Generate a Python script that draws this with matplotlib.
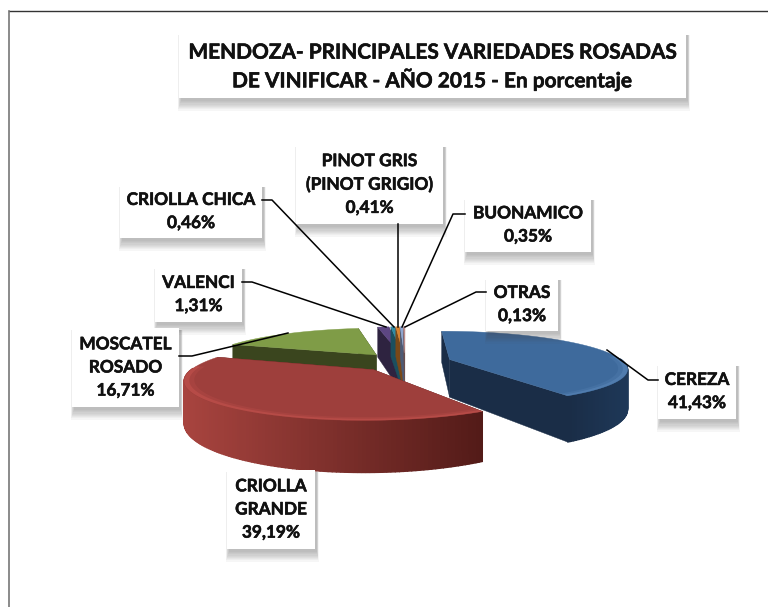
import numpy as np
import matplotlib
matplotlib.use("Agg")
import matplotlib.pyplot as plt
import matplotlib.patheffects as pe
from matplotlib.patches import Polygon, Rectangle
from matplotlib.colors import to_rgb

# datos
variedades = ["CEREZA", "CRIOLLA\nGRANDE", "MOSCATEL\nROSADO", "VALENCI",
              "CRIOLLA CHICA", "PINOT GRIS\n(PINOT GRIGIO)", "BUONAMICO", "OTRAS"]
valores = [41.43, 39.19, 16.71, 1.31, 0.46, 0.41, 0.35, 0.13]
titulo = "MENDOZA- PRINCIPALES VARIEDADES ROSADAS\nDE VINIFICAR - AÑO 2015 - En porcentaje"

# colores: cara superior, corte, lado
c_top = ["#3e6a9c", "#9e3f3c", "#7f9c47", "#5d4683", "#2f8ba6", "#d9822e", "#8fa6d0", "#c48f8d"]
c_cut = ["#1a2d47", "#5a1f1d", "#3a451e", "#2e2340", "#1b4f5f", "#7a4818", "#4d5a75", "#6a4d4c"]
c_side_a = ["#1a2d47", "#a8443f", "#3a451e", "#2e2340", "#1b4f5f", "#7a4818", "#4d5a75", "#6a4d4c"]
c_side_b = ["#1e3858", "#531b18", "#3a451e", "#2e2340", "#1b4f5f", "#7a4818", "#4d5a75", "#6a4d4c"]

# cajas de etiquetas en pixeles: x0, y0, x1, y1
cajas = [(658, 364, 736, 419), (227, 470, 315, 549), (72, 328, 179, 407), (155, 267, 242, 322),
         (120, 185, 262, 238), (296, 145, 443, 224), (465, 198, 591, 252), (486, 278, 558, 331)]
guias = [[(658, 380), (648, 380), (607, 350)], None,
         [(179, 356), (192, 356), (288, 333)],
         [(242, 282), (252, 282), (386, 327)],
         [(262, 200), (272, 200), (394, 327)],
         [(398, 224), (398, 327)],
         [(465, 214), (453, 214), (402, 327)],
         [(486, 292), (476, 292), (405, 327)]]

# proyeccion del pastel
CX, CY, S = 405, 362, 174
K, T, H = 0.22, 0.204, 0.22
EXPLODE = 0.27


def proy(x, y, z=0.0):
    w = 1 + K * y
    return CX + S * x / w, CY - (S * T * y + S * H * z) / w


def mezcla(a, b, f):
    a, b = np.array(to_rgb(a)), np.array(to_rgb(b))
    return tuple(a + (b - a) * f)


fig = plt.figure(figsize=(7.68, 6.07), dpi=100)
ax = fig.add_axes([0, 0, 1, 1])
ax.set_xlim(0, 768)
ax.set_ylim(607, 0)
ax.axis("off")

# marco del grafico
ax.plot([768, 9], [10.5, 10.5], color="#333333", lw=1.0, zorder=1)
ax.plot([9, 9], [10.5, 607], color="#777777", lw=1.2, zorder=1)

angulos = np.cumsum([0] + valores) / sum(valores) * 2 * np.pi
medio = (angulos[:-1] + angulos[1:]) / 2

# de atras hacia adelante
orden = [3, 4, 5, 6, 7, 2, 0, 1]
z = 10
for i in orden:
    a0, a1 = angulos[i], angulos[i + 1]
    ox, oy = EXPLODE * np.sin(medio[i]), EXPLODE * np.cos(medio[i])
    th = np.linspace(a0, a1, 140)
    rx, ry = ox + np.sin(th), oy + np.cos(th)

    # cortes
    for a in (a0, a1):
        px, py = ox + np.sin(a), oy + np.cos(a)
        cara = [proy(ox, oy), proy(px, py), proy(px, py, -1), proy(ox, oy, -1)]
        ax.add_patch(Polygon(cara, closed=True, fc=c_cut[i], ec=c_cut[i], lw=0.3, zorder=z))
    z += 1

    # lado exterior con degradado segun x
    visibles = [j for j in range(len(th) - 1) if np.cos(th[j]) <= 0.02]
    if visibles:
        xs = [proy(rx[j], ry[j])[0] for j in visibles]
        for j in visibles:
            cara = [proy(rx[j], ry[j]), proy(rx[j + 1], ry[j + 1]),
                    proy(rx[j + 1], ry[j + 1], -1), proy(rx[j], ry[j], -1)]
            f = (proy(rx[j], ry[j])[0] - min(xs)) / (max(xs) - min(xs))
            col = mezcla(c_side_a[i], c_side_b[i], f)
            ax.add_patch(Polygon(cara, closed=True, fc=col, ec=col, lw=1.0, zorder=z))
    z += 1

    # cara superior
    cara = [proy(ox, oy)] + [proy(x, y) for x, y in zip(rx, ry)]
    ax.add_patch(Polygon(cara, closed=True, fc=c_top[i], ec=c_top[i], lw=0.3, zorder=z))
    z += 1

    # bisel claro en el borde cercano
    if i in (0, 1):
        for paso, alfa in zip((0.975, 0.95), (0.55, 0.25)):
            ix, iy = ox + paso * np.sin(th), oy + paso * np.cos(th)
            m = np.cos(th) < 0.1
            banda = [proy(x, y) for x, y in zip(rx[m], ry[m])] + [proy(x, y) for x, y in zip(ix[m][::-1], iy[m][::-1])]
            claro = "#c4524d" if i == 1 else "#5a86b8"
            ax.add_patch(Polygon(banda, closed=True, fc=claro, ec="none", alpha=alfa, zorder=z))
        z += 1


def caja_sombra(x0, y0, x1, y1, zorder):
    # sombra difusa abajo de la caja
    for d in range(9):
        ax.add_patch(Rectangle((x0 + 2 - d * 0.4, y0 + 2), x1 - x0 + d * 0.6, y1 - y0 + 1 + d * 1.2,
                               fc="#404040", ec="none", alpha=0.045, zorder=zorder))
    ax.add_patch(Rectangle((x0, y0), x1 - x0, y1 - y0, fc="white", ec="none", zorder=zorder + 0.1))


fuente = ["Lato", "DejaVu Sans"]
trazo = [pe.withStroke(linewidth=0.4, foreground="#111111")]
zl = z + 10
for i, nombre in enumerate(variedades):
    x0, y0, x1, y1 = cajas[i]
    caja_sombra(x0, y0, x1, y1, zl)
    etiqueta = nombre + "\n" + f"{valores[i]:.2f}".replace(".", ",") + "%"
    ax.text((x0 + x1) / 2, (y0 + y1) / 2, etiqueta, ha="center", va="center", fontsize=12.4,
            fontweight="bold", family=fuente, color="#111111", linespacing=1.55, zorder=zl + 2,
            path_effects=trazo)
    if guias[i] is not None:
        gx, gy = zip(*guias[i])
        ax.plot(gx, gy, color="black", lw=1.1, zorder=zl + 1)

caja_sombra(179, 33, 686, 98, zl)
ax.text(432.5, 67, titulo, ha="center", va="center", fontsize=15, fontweight="bold",
        family=fuente, color="#111111", linespacing=1.3, zorder=zl + 2, path_effects=trazo)

fig.savefig("out.png", dpi=100)
